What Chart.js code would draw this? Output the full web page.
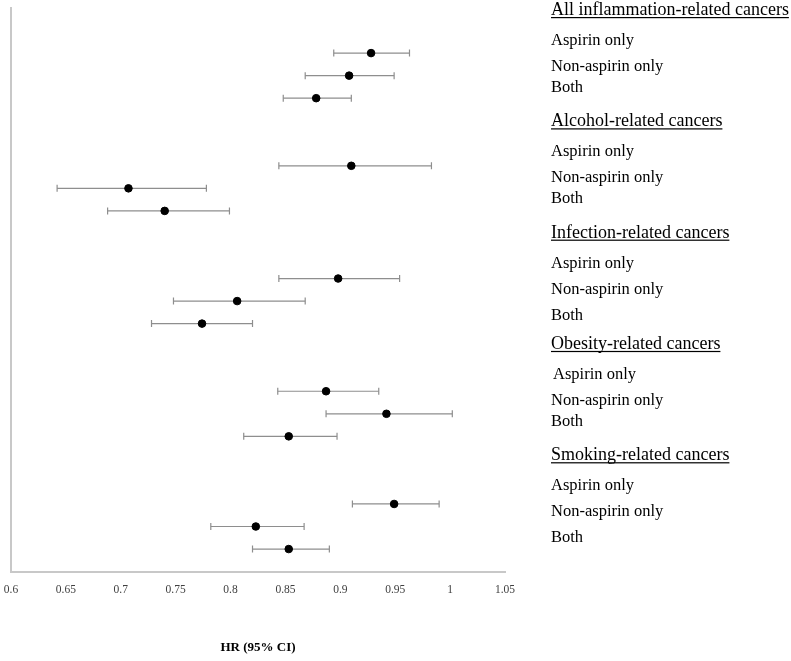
<!DOCTYPE html>
<html>
<head>
<meta charset="utf-8">
<title>HR (95% CI) by cancer group</title>
<script src="https://cdn.jsdelivr.net/npm/chart.js@4"></script>
<style>
  html, body { margin: 0; padding: 0; background: #fff; }
  #wrap { width: 791px; height: 661px; }
</style>
</head>
<body>
<div id="wrap"><canvas id="chart-canvas" width="791" height="661"></canvas></div>
<script>
const groups = [
  'All inflammation-related cancers',
  'Alcohol-related cancers',
  'Infection-related cancers',
  'Obesity-related cancers',
  'Smoking-related cancers'
];
const exposures = ['Aspirin only', 'Non-aspirin only', 'Both'];

// HR and 95% CI, 3 exposures per group, in group order
const hr     = [0.928, 0.908, 0.878,  0.910, 0.707, 0.740,  0.898, 0.806, 0.774,  0.887, 0.942, 0.853,  0.949, 0.823, 0.853];
const ciLow  = [0.894, 0.868, 0.848,  0.844, 0.642, 0.688,  0.844, 0.748, 0.728,  0.843, 0.887, 0.812,  0.911, 0.782, 0.820];
const ciHigh = [0.963, 0.949, 0.910,  0.983, 0.778, 0.799,  0.954, 0.868, 0.820,  0.935, 1.002, 0.897,  0.990, 0.867, 0.890];

const xTicks = [0.6, 0.65, 0.7, 0.75, 0.8, 0.85, 0.9, 0.95, 1, 1.05];

const SERIF = "'Liberation Serif', 'Times New Roman', serif";

// 5 rows per group on the y scale (0..25), the top two rows are left empty
const rowOf = i => 23 - Math.floor(i / 3) * 5 - (i % 3);

const points = hr.map((v, i) => ({ x: v, y: rowOf(i) }));
const ciLines = [];
hr.forEach((v, i) => {
  ciLines.push({ x: ciLow[i], y: rowOf(i) }, { x: ciHigh[i], y: rowOf(i) }, { x: null, y: null });
});

// group headings + exposure labels on the right
const bothGap = [77, 77, 82, 77, 82];
const sideLabels = {
  id: 'sideLabels',
  afterDraw(chart) {
    const ctx = chart.ctx;
    const x0 = 551;
    ctx.save();
    ctx.fillStyle = '#000';
    ctx.textAlign = 'left';
    ctx.textBaseline = 'alphabetic';
    groups.forEach((g, gi) => {
      const base = 15 + gi * 111.3;
      ctx.font = '18px ' + SERIF;
      ctx.fillText(g, x0, base);
      const w = ctx.measureText(g).width;
      ctx.fillRect(x0, base + 2, w, 1.2);
      ctx.font = '16.5px ' + SERIF;
      const offs = [30, 56, bothGap[gi]];
      exposures.forEach((e, ei) => {
        const dx = (gi === 3 && ei === 0) ? 2 : 0;
        ctx.fillText(e, x0 + dx, base + offs[ei]);
      });
    });
    ctx.restore();
  }
};

const ctx = document.getElementById('chart-canvas').getContext('2d');
new Chart(ctx, {
  type: 'scatter',
  data: {
    datasets: [
      {
        label: '95% CI',
        data: ciLines,
        showLine: true,
        borderColor: '#8e8e8e',
        borderWidth: 1.2,
        pointStyle: 'line',
        rotation: 90,
        pointRadius: 3.5,
        pointBorderColor: '#8e8e8e',
        pointBorderWidth: 1.2,
        order: 2
      },
      {
        label: 'HR',
        data: points,
        backgroundColor: '#000',
        borderColor: '#000',
        pointRadius: 3.8,
        pointBorderWidth: 1,
        order: 1
      }
    ]
  },
  options: {
    responsive: false,
    animation: false,
    layout: { autoPadding: false, padding: { left: 11, top: 8, right: 286, bottom: 6 } },
    plugins: {
      legend: { display: false },
      tooltip: { enabled: false }
    },
    scales: {
      x: {
        type: 'linear',
        min: 0.6,
        max: 1.05,
        afterBuildTicks: axis => { axis.ticks = xTicks.map(v => ({ value: v })); },
        afterFit: axis => { axis.paddingLeft = 0; axis.paddingRight = 0; },
        grid: { display: false, drawTicks: false },
        border: { display: true, color: '#c8c8c8', width: 2 },
        ticks: {
          padding: 11,
          color: '#404040',
          font: { family: SERIF, size: 11.5 },
          callback: v => String(+Number(v).toFixed(2))
        },
        title: {
          display: true,
          text: 'HR (95% CI)',
          color: '#000',
          font: { family: SERIF, size: 13, weight: 'bold' },
          padding: { top: 32, bottom: 0 }
        }
      },
      y: {
        type: 'linear',
        min: 0,
        max: 25,
        grid: { display: false, drawTicks: false },
        border: { display: true, color: '#c8c8c8', width: 2 },
        ticks: { display: false }
      }
    }
  },
  plugins: [sideLabels]
});
</script>
</body>
</html>
